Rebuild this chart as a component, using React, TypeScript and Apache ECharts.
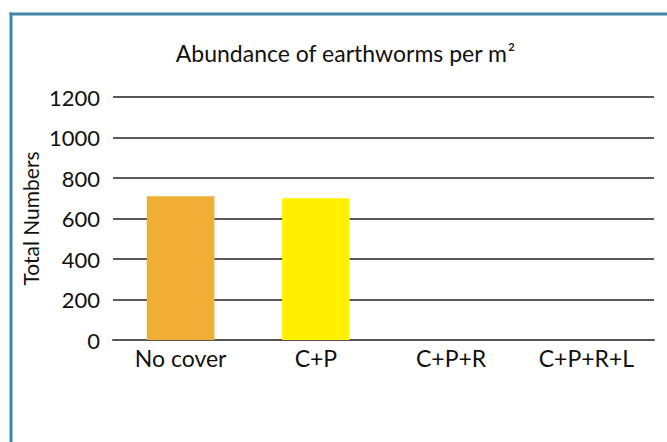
import React, { useEffect, useRef } from "react";
import * as echarts from "echarts";

const categories = ["No cover", "C+P", "C+P+R", "C+P+R+L"];
const values: (number | null)[] = [710, 700, null, null];
const barColors = ["#F1AE37", "#FFF100", "#F1AE37", "#FFF100"];
const yTicks = { min: 0, max: 1200, interval: 200 };
const titleText = "Abundance of earthworms per m";
const yName = "Total Numbers";

const FONT = "Lato, 'Open Sans', sans-serif";

export default function App() {
  const ref = useRef<HTMLDivElement>(null);
  useEffect(() => {
    if (!ref.current) return;
    const chart = echarts.init(ref.current, null, { renderer: "svg" });
    chart.setOption({
      animation: false,
      backgroundColor: "#ffffff",
      title: {
        text: "{t|" + titleText + "}{s|2}",
        left: 340,
        textAlign: "center",
        top: 36,
        textStyle: {
          rich: {
            t: { fontFamily: FONT, fontSize: 23, color: "#111", fontWeight: "normal" },
            s: { fontFamily: FONT, fontSize: 11, color: "#111", verticalAlign: "top", padding: [0, 0, 10, 1] },
          },
        },
      },
      graphic: [
        { type: "line", shape: { x1: 9.5, y1: 14, x2: 667, y2: 14 }, style: { stroke: "#3F88A8", lineWidth: 3 } },
        { type: "line", shape: { x1: 11, y1: 12.5, x2: 11, y2: 442 }, style: { stroke: "#3F88A8", lineWidth: 3 } },
      ],
      grid: { left: 113, right: 13, top: 97, bottom: 102 },
      xAxis: {
        type: "category",
        data: categories,
        axisLine: { show: true, lineStyle: { color: "#555", width: 2 } },
        axisTick: { show: false },
        axisLabel: { fontFamily: FONT, fontSize: 23, color: "#111", margin: 6 },
      },
      yAxis: {
        type: "value",
        min: yTicks.min,
        max: yTicks.max,
        interval: yTicks.interval,
        name: yName,
        nameLocation: "middle",
        nameGap: 72,
        nameMoveOverlap: false,
        nameTextStyle: { fontFamily: FONT, fontSize: 21, color: "#111" },
        axisLine: { show: false },
        axisTick: { show: false },
        axisLabel: {
          fontFamily: FONT,
          fontSize: 22,
          color: "#111",
          margin: 13,
          formatter: (v: number) => String(v),
        },
        splitLine: { lineStyle: { color: "#222", width: 1.5 } },
      },
      series: [
        {
          type: "bar",
          barWidth: "50%",
          data: values.map((v, i) => ({ value: v, itemStyle: { color: barColors[i] } })),
        },
      ],
    });
    return () => chart.dispose();
  }, []);
  return (
    <div
      ref={ref}
      style={{ position: "fixed", left: 0, top: 0, width: 667, height: 442 }}
    />
  );
}
